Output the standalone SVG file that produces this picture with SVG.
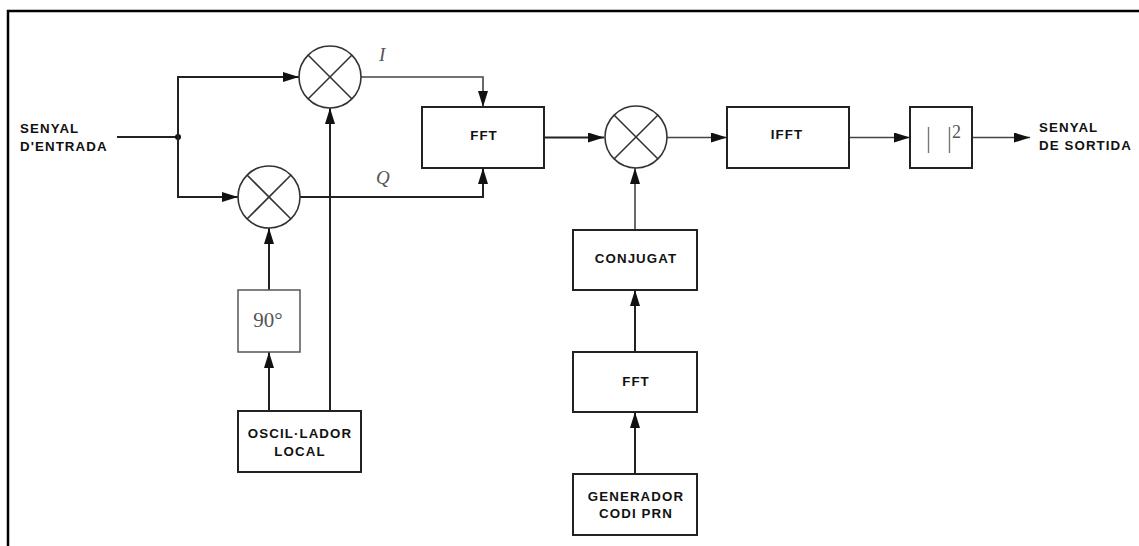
<svg xmlns="http://www.w3.org/2000/svg" width="1139" height="546" viewBox="0 0 1139 546">
<defs>
<marker id="arr" viewBox="0 0 16 10" refX="16" refY="5" markerWidth="16" markerHeight="10" markerUnits="userSpaceOnUse" orient="auto">
<path d="M0,0 L16,5 L0,10 z" fill="#111"/>
</marker>
</defs>
<style>
.box{fill:#fff;stroke:#222;stroke-width:2}
.gbox{fill:#fff;stroke:#555;stroke-width:1.5}
.mult circle{fill:#fff;stroke:#333;stroke-width:1.6}
.mult line{stroke:#333;stroke-width:1.6}
.lbl{font-family:"Liberation Sans",Arial,sans-serif;font-weight:bold;font-size:13.3px;letter-spacing:1.1px;fill:#111}
.ctr{text-anchor:middle}
.ser{font-family:"Liberation Serif","Times New Roman",serif;fill:#555}
.c{fill:none;stroke:#222;stroke-width:2}
.cg{fill:none;stroke:#444;stroke-width:1.6}
</style>
<g id="frame">
<path d="M8,546 V11 H1139" fill="none" stroke="#000" stroke-width="2.5"/>
</g>
<g id="input-label">
<text class="lbl" x="20" y="133">SENYAL</text>
<text class="lbl" x="20" y="151">D'ENTRADA</text>
</g>
<g id="output-label">
<text class="lbl" x="1039" y="132">SENYAL</text>
<text class="lbl" x="1039" y="150">DE SORTIDA</text>
</g>
<g id="connectors">
<path class="c" d="M117,137 H178"/>
<circle cx="178" cy="137" r="3" fill="#111"/>
<path class="c" d="M178,137 V77 H299" marker-end="url(#arr)"/>
<path class="c" d="M178,137 V197 H238" marker-end="url(#arr)"/>
<path class="cg" d="M361,77 H483 V107" marker-end="url(#arr)"/>
<path class="c" d="M300,197 H483 V168" marker-end="url(#arr)"/>
<path class="c" d="M330,411 V108" marker-end="url(#arr)"/>
<path class="c" d="M269,411 V352" marker-end="url(#arr)"/>
<path class="c" d="M269,290 V228" marker-end="url(#arr)"/>
<path class="c" d="M544,137.5 H604" marker-end="url(#arr)"/>
<path class="cg" d="M667,137.5 H727" marker-end="url(#arr)"/>
<path class="cg" d="M849,137.5 H910" marker-end="url(#arr)"/>
<path class="cg" d="M972,137.5 H1030" marker-end="url(#arr)"/>
<path class="cg" d="M635,230 V168" marker-end="url(#arr)"/>
<path class="c" d="M635,352 V290" marker-end="url(#arr)"/>
<path class="c" d="M635,474 V412" marker-end="url(#arr)"/>
<text class="ser" x="379" y="61" font-size="19" font-style="italic">I</text>
<text class="ser" x="376" y="184" font-size="19" font-style="italic">Q</text>
</g>
<g id="mult-i" class="mult">
<circle cx="330" cy="77" r="31"/>
<line x1="308" y1="55" x2="352" y2="99"/>
<line x1="352" y1="55" x2="308" y2="99"/>
</g>
<g id="mult-q" class="mult">
<circle cx="269" cy="197" r="31"/>
<line x1="247" y1="175" x2="291" y2="219"/>
<line x1="291" y1="175" x2="247" y2="219"/>
</g>
<g id="mult-corr" class="mult">
<circle cx="636" cy="137" r="31"/>
<line x1="614" y1="115" x2="658" y2="159"/>
<line x1="658" y1="115" x2="614" y2="159"/>
</g>
<g id="phase90">
<rect class="gbox" x="238" y="290" width="62" height="62"/>
<text class="ser ctr" x="268" y="327" font-size="21">90°</text>
</g>
<g id="osc">
<rect class="box" x="238" y="411" width="123" height="61"/>
<text class="lbl ctr" x="300" y="438">OSCIL·LADOR</text>
<text class="lbl ctr" x="300" y="456">LOCAL</text>
</g>
<g id="fft1">
<rect class="box" x="422" y="107" width="122" height="61"/>
<text class="lbl ctr" x="484" y="140">FFT</text>
</g>
<g id="ifft">
<rect class="box" x="727" y="107" width="122" height="61"/>
<text class="lbl ctr" x="787" y="139">IFFT</text>
</g>
<g id="abs2">
<rect class="box" x="910" y="107" width="62" height="61"/>
<line x1="928.5" y1="127" x2="928.5" y2="153" stroke="#777" stroke-width="1.4"/>
<line x1="949.5" y1="127" x2="949.5" y2="153" stroke="#777" stroke-width="1.4"/>
<text class="ser" x="952" y="138" font-size="18">2</text>
</g>
<g id="conj">
<rect class="box" x="573" y="230" width="124" height="60"/>
<text class="lbl ctr" x="636" y="263">CONJUGAT</text>
</g>
<g id="fft2">
<rect class="box" x="573" y="352" width="124" height="60"/>
<text class="lbl ctr" x="636" y="386">FFT</text>
</g>
<g id="prn">
<rect class="box" x="573" y="474" width="124" height="61"/>
<text class="lbl ctr" x="636" y="501">GENERADOR</text>
<text class="lbl ctr" x="636" y="518">CODI PRN</text>
</g>
</svg>
